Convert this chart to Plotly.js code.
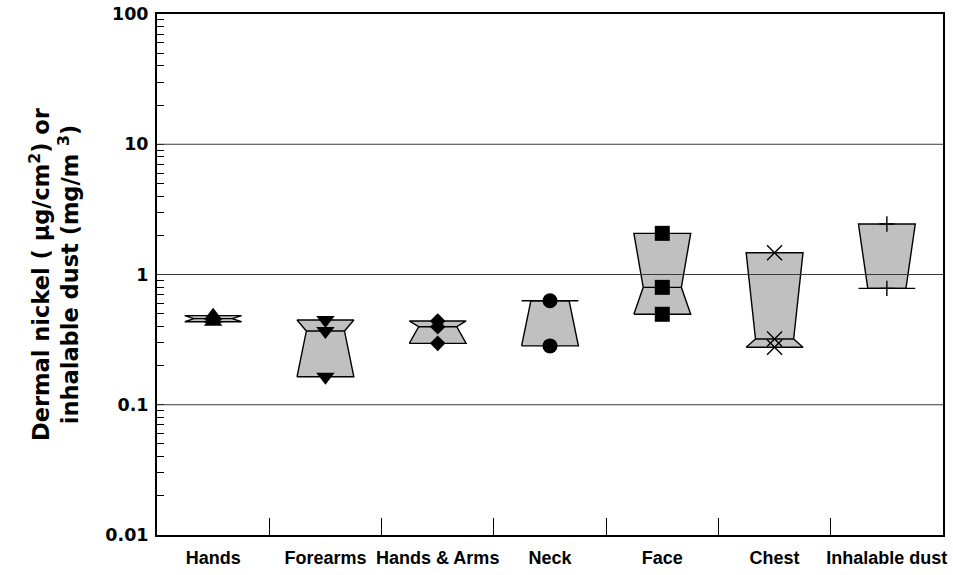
<!DOCTYPE html>
<html>
<head>
<meta charset="utf-8">
<script src="https://cdn.plot.ly/plotly-3.0.1.min.js"></script>
<style>
  html, body { margin: 0; padding: 0; background: #ffffff; }
  #chart { width: 953px; height: 575px; }
</style>
</head>
<body>
<div id="chart"></div>
<script>
// Nickel exposure by body site: notched boxes (hinges + median) with the individual samples
const categories = ['Hands', 'Forearms', 'Hands & Arms', 'Neck', 'Face', 'Chest', 'Inhalable dust'];
const lowerHinge = [0.434, 0.164, 0.296, 0.283, 0.495, 0.276, 0.783];
const medianVals = [0.458, 0.368, 0.397, 0.629, 0.797, 0.320, 0.783];
const upperHinge = [0.483, 0.447, 0.440, 0.629, 2.07, 1.47, 2.44];
const handsSamples = [0.483, 0.458, 0.434];
const forearmsSamples = [0.447, 0.368, 0.164];
const handsArmsSamples = [0.440, 0.397, 0.296];
const neckSamples = [0.629, 0.283];
const faceSamples = [2.07, 0.797, 0.495];
const chestSamples = [1.47, 0.320, 0.276];
const dustSamples = [2.44, 0.783];
const sampleSets = [handsSamples, forearmsSamples, handsArmsSamples, neckSamples, faceSamples, chestSamples, dustSamples];
const markerSymbols = ['triangle-up', 'triangle-down', 'diamond', 'circle', 'square', 'x-thin', 'cross-thin'];
const yTickVals = [0.01, 0.1, 1, 10, 100];
const yTickText = ['0.01', '0.1', '1', '10', '100'];
const gridVals = [0.1, 1, 10];

// box geometry, in category units
const HALF_WIDTH = 0.253;
const WAIST = 0.17;

const catPos = categories.map((c, i) => i);
const boundaries = categories.slice(1).map((c, i) => i + 0.5);

const traces = [];

categories.forEach((name, i) => {
  const lo = lowerHinge[i], md = medianVals[i], hi = upperHinge[i];
  traces.push({
    type: 'scatter', mode: 'lines', hoverinfo: 'skip',
    x: [i - HALF_WIDTH, i + HALF_WIDTH, i + WAIST, i + HALF_WIDTH, i - HALF_WIDTH, i - WAIST, i - HALF_WIDTH],
    y: [lo, lo, md, hi, hi, md, lo],
    fill: 'toself', fillcolor: '#c0c0c0',
    line: { color: '#000000', width: 1.4 }
  });
  traces.push({
    type: 'scatter', mode: 'lines', hoverinfo: 'skip',
    x: [i - WAIST, i + WAIST], y: [md, md],
    line: { color: '#000000', width: 1.4 }
  });
});

const symbolSize = { 'triangle-up': 16, 'triangle-down': 16, 'diamond': 12, 'circle': 15, 'square': 15, 'x-thin': 15, 'cross-thin': 11 };

categories.forEach((name, i) => {
  const sym = markerSymbols[i];
  const thin = sym.endsWith('-thin');
  traces.push({
    type: 'scatter', mode: 'markers', name: name,
    x: sampleSets[i].map(() => i), y: sampleSets[i],
    marker: {
      symbol: sym, size: symbolSize[sym], color: '#000000',
      line: { color: '#000000', width: thin ? 1.4 : 0 }
    }
  });
});

const layout = {
  width: 953, height: 575,
  margin: { l: 157, r: 10, t: 14, b: 40 },
  paper_bgcolor: '#ffffff', plot_bgcolor: '#ffffff',
  showlegend: false,
  xaxis: {
    range: [-0.5, 6.5],
    tickmode: 'array', tickvals: catPos, ticktext: categories,
    ticks: '', showgrid: false, zeroline: false,
    showline: true, mirror: true, linecolor: '#000000', linewidth: 2,
    ticklabelstandoff: 5,
    tickfont: { family: 'Liberation Sans, Arial, sans-serif', size: 18, color: '#000000', weight: 'bold' },
    minor: { tickmode: 'array', tickvals: boundaries, ticks: 'inside', ticklen: 17, tickwidth: 1, tickcolor: '#000000', showgrid: false }
  },
  yaxis: {
    type: 'log', range: [-2, 2],
    tickmode: 'array', tickvals: yTickVals, ticktext: yTickText,
    ticks: 'inside', ticklen: 7, tickwidth: 1, tickcolor: '#000000',
    showgrid: false, zeroline: false,
    showline: true, mirror: true, linecolor: '#000000', linewidth: 2,
    ticklabelstandoff: 3,
    tickfont: { family: 'DejaVu Sans, sans-serif', size: 17.5, color: '#000000', weight: 'bold' },
    minor: { ticks: 'inside', dtick: 'D1', ticklen: 7, tickwidth: 1, tickcolor: '#000000', showgrid: false },
    title: {
      text: 'Dermal nickel ( \u00b5g/cm<sup>2</sup>) or<br>inhalable dust (mg/m <sup>3</sup>)',
      font: { family: 'DejaVu Sans, sans-serif', size: 22.5, color: '#000000', weight: 'bold' },
      standoff: 20
    }
  },
  shapes: gridVals.map(v => ({
    type: 'line', layer: 'above',
    xref: 'paper', x0: 0, x1: 1, yref: 'y', y0: v, y1: v,
    line: { color: '#3a3a3a', width: 1 }
  }))
};

Plotly.newPlot('chart', traces, layout, { staticPlot: true, displayModeBar: false });
</script>
</body>
</html>
